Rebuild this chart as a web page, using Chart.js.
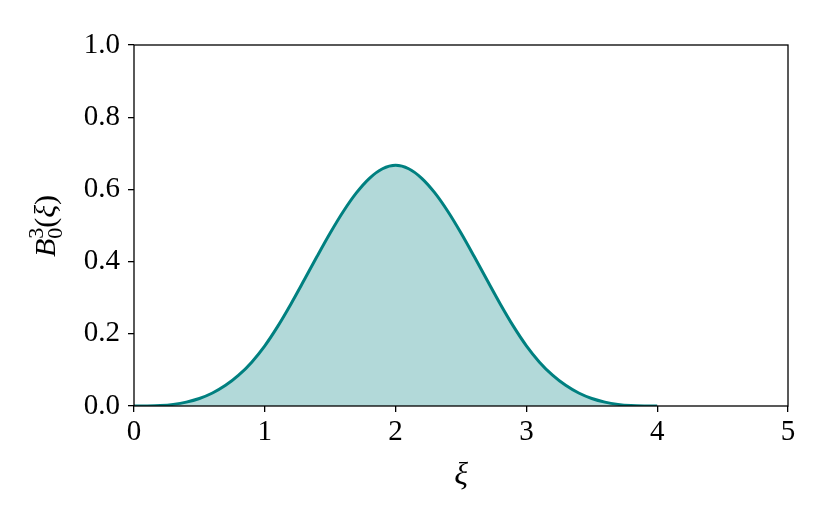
<!DOCTYPE html>
<html>
<head>
<meta charset="utf-8">
<script src="https://cdn.jsdelivr.net/npm/chart.js@4"></script>
<style>
  html, body { margin: 0; padding: 0; background: #fff; }
  #wrap { width: 830px; height: 526px; }
</style>
</head>
<body>
<div id="wrap"><canvas id="chart" width="830" height="526"></canvas></div>
<script>
// 横軸の値（ξ）
const xiValues = [
  0.0, 0.1, 0.2, 0.3, 0.4, 0.5, 0.6, 0.7, 0.8, 0.9,
  1.0, 1.1, 1.2, 1.3, 1.4, 1.5, 1.6, 1.7, 1.8, 1.9,
  2.0, 2.1, 2.2, 2.3, 2.4, 2.5, 2.6, 2.7, 2.8, 2.9,
  3.0, 3.1, 3.2, 3.3, 3.4, 3.5, 3.6, 3.7, 3.8, 3.9, 4.0
];
// 縦軸の値（B_0^3）
const splineValues = [
  0.000, 0.0002, 0.0013, 0.0045, 0.0107, 0.0208, 0.036, 0.0572, 0.0853, 0.1215,
  0.1667, 0.2212, 0.2827, 0.3482, 0.4147, 0.4792, 0.5387, 0.5902, 0.6307, 0.6572,
  0.6667, 0.6572, 0.6307, 0.5902, 0.5387, 0.4792, 0.4147, 0.3482, 0.2827, 0.2212,
  0.1667, 0.1215, 0.0853, 0.0572, 0.036, 0.0208, 0.0107, 0.0045, 0.0013, 0.0002, 0.000
];
// 目盛り
const xTicks = [0, 1, 2, 3, 4, 5];
const yTicks = [0.0, 0.2, 0.4, 0.6, 0.8, 1.0];

const serif = '"Liberation Serif", "DejaVu Serif", serif';

// 枠線と軸ラベルを描画
const framePlugin = {
  id: 'frame',
  afterDraw(chart) {
    const { ctx, chartArea: a } = chart;
    ctx.save();
    ctx.strokeStyle = '#000';
    ctx.lineWidth = 1.3;
    ctx.strokeRect(a.left, a.top, a.right - a.left, a.bottom - a.top);

    // x軸ラベル
    ctx.fillStyle = '#000';
    ctx.font = 'italic 32px ' + serif;
    ctx.textAlign = 'center';
    ctx.textBaseline = 'alphabetic';
    ctx.fillText('ξ', (a.left + a.right) / 2, 484);

    // y軸ラベル
    ctx.translate(55, 226);
    ctx.rotate(-Math.PI / 2);
    const parts = [
      { t: 'B', f: 'italic 30px ' + serif, dy: 0 },
      { t: '0', f: '22px ' + serif, dy: 7, keep: true },
      { t: '3', f: '22px ' + serif, dy: -12 },
      { t: '(', f: '30px ' + serif, dy: 0 },
      { t: 'ξ', f: 'italic 30px ' + serif, dy: 0 },
      { t: ')', f: '30px ' + serif, dy: 0 }
    ];
    let total = 0;
    parts.forEach(p => { ctx.font = p.f; p.w = ctx.measureText(p.t).width; if (!p.keep) total += p.w; });
    let x = -total / 2;
    ctx.textAlign = 'left';
    parts.forEach(p => {
      ctx.font = p.f;
      ctx.fillText(p.t, x, p.dy);
      if (!p.keep) x += p.w;
    });
    ctx.restore();
  }
};

const ctx = document.getElementById('chart').getContext('2d');
new Chart(ctx, {
  type: 'line',
  data: {
    datasets: [{
      data: xiValues.map((x, i) => ({ x: x, y: splineValues[i] })),
      borderColor: '#008080',
      backgroundColor: 'rgba(0,128,128,0.3)',
      borderWidth: 3,
      pointRadius: 0,
      tension: 0.3,
      fill: 'origin'
    }]
  },
  options: {
    responsive: false,
    animation: false,
    layout: { padding: { top: 45, right: 42, left: 0, bottom: 0 } },
    plugins: { legend: { display: false }, tooltip: { enabled: false } },
    scales: {
      x: {
        type: 'linear',
        min: 0, max: 5,
        afterBuildTicks: s => { s.ticks = xTicks.map(v => ({ value: v })); },
        afterFit: s => { s.height = 120; },
        grid: { drawOnChartArea: false, drawTicks: true, tickLength: 6, color: '#000', lineWidth: 1.3 },
        border: { display: false },
        ticks: { color: '#000', font: { family: serif, size: 29 }, padding: 3, maxRotation: 0 }
      },
      y: {
        min: 0, max: 1,
        afterBuildTicks: s => { s.ticks = yTicks.map(v => ({ value: v })); },
        afterFit: s => { s.width = 134; },
        grid: { drawOnChartArea: false, drawTicks: true, tickLength: 6, color: '#000', lineWidth: 1.3 },
        border: { display: false },
        ticks: { color: '#000', font: { family: serif, size: 29 }, padding: 8, callback: v => v.toFixed(1) }
      }
    }
  },
  plugins: [framePlugin]
});
</script>
</body>
</html>
